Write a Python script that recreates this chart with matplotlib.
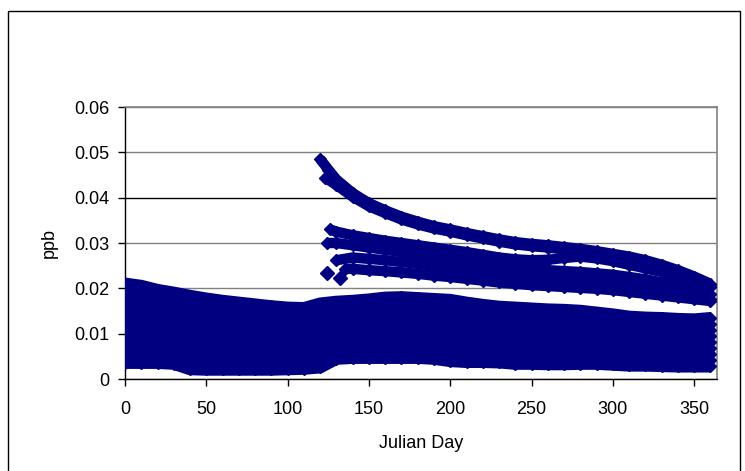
import numpy as np
import matplotlib
matplotlib.use('Agg')
import matplotlib.pyplot as plt
from matplotlib.patches import Rectangle

plt.rcParams['font.family'] = ['Liberation Sans', 'DejaVu Sans']

NAVY = '#000080'

# ---- data (ppb vs Julian day) ----
days = [0, 10, 20, 30, 40, 50, 60, 70, 80, 90, 100, 110, 120, 130, 140, 150, 160, 170, 180,
        190, 200, 210, 220, 230, 240, 250, 260, 270, 280, 290, 300, 310, 320, 330, 340, 350, 360]

# top and bottom edge of the dense low band
low_top = [0.0210, 0.0205, 0.0196, 0.0190, 0.0183, 0.0177, 0.0172, 0.0168, 0.0164, 0.0160,
           0.0157, 0.0156, 0.0166, 0.0170, 0.0172, 0.0175, 0.0179, 0.0180, 0.0178, 0.0176,
           0.0174, 0.0168, 0.0163, 0.0159, 0.0157, 0.0155, 0.0153, 0.0152, 0.0150, 0.0146,
           0.0142, 0.0137, 0.0135, 0.0134, 0.0132, 0.0131, 0.0134]
low_bottom = [0.0036, 0.0036, 0.0036, 0.0034, 0.0022, 0.0021, 0.0021, 0.0021, 0.0021, 0.0021,
              0.0022, 0.0023, 0.0026, 0.0045, 0.0047, 0.0047, 0.0047, 0.0047, 0.0047, 0.0045,
              0.0040, 0.0038, 0.0038, 0.0037, 0.0034, 0.0034, 0.0033, 0.0033, 0.0034, 0.0034,
              0.0032, 0.0030, 0.0030, 0.0029, 0.0028, 0.0028, 0.0028]

# series inside the low band
mid_days = [0, 30, 60, 90, 120, 150, 180, 210, 240, 270, 300, 330, 360]
mid_1 = [0.0054, 0.0049, 0.0038, 0.0037, 0.0042, 0.0063, 0.0063, 0.0054, 0.0049, 0.0048, 0.0046, 0.0042, 0.0041]
mid_2 = [0.0078, 0.0071, 0.0058, 0.0056, 0.0060, 0.0079, 0.0080, 0.0071, 0.0065, 0.0063, 0.0060, 0.0055, 0.0055]
mid_3 = [0.0101, 0.0093, 0.0078, 0.0073, 0.0079, 0.0095, 0.0096, 0.0087, 0.0080, 0.0078, 0.0073, 0.0068, 0.0068]
mid_4 = [0.0123, 0.0112, 0.0097, 0.0091, 0.0096, 0.0111, 0.0113, 0.0103, 0.0096, 0.0093, 0.0087, 0.0081, 0.0081]
mid_5 = [0.0145, 0.0132, 0.0116, 0.0108, 0.0114, 0.0127, 0.0129, 0.0119, 0.0111, 0.0108, 0.0101, 0.0095, 0.0095]
mid_6 = [0.0167, 0.0151, 0.0134, 0.0125, 0.0131, 0.0143, 0.0145, 0.0136, 0.0126, 0.0123, 0.0115, 0.0108, 0.0108]
mid_7 = [0.0188, 0.0171, 0.0153, 0.0143, 0.0149, 0.0159, 0.0162, 0.0152, 0.0142, 0.0137, 0.0128, 0.0121, 0.0121]

# upper curve (starts day 120)
up1_days = [120, 125, 130, 140, 150, 160, 170, 180, 190, 200, 210, 220, 230, 240, 250, 260,
            270, 280, 290, 300, 310, 320, 330, 340, 350, 360]
up1 = [0.0485, 0.0462, 0.0440, 0.0410, 0.0388, 0.0372, 0.0358, 0.0347, 0.0337, 0.0330, 0.0322,
       0.0315, 0.0308, 0.0302, 0.0298, 0.0295, 0.0291, 0.0287, 0.0282, 0.0276, 0.0270, 0.0262,
       0.0252, 0.0240, 0.0226, 0.0210]
up2_days = [123, 130, 140, 150, 160, 170, 180, 190, 200, 210, 220, 230, 240, 250, 260, 270,
            280, 290, 300, 310, 320, 330, 340, 350, 360]
up2 = [0.0444, 0.0428, 0.0402, 0.0381, 0.0366, 0.0352, 0.0341, 0.0332, 0.0325, 0.0317, 0.0310,
       0.0303, 0.0297, 0.0293, 0.0290, 0.0286, 0.0282, 0.0277, 0.0271, 0.0265, 0.0257, 0.0247,
       0.0235, 0.0221, 0.0206]

# middle group (starts around day 125)
b1_days = [126, 130, 140, 150, 160, 170, 180, 190, 200, 210, 220, 230, 240, 250, 260, 270,
           280, 290, 300, 310, 320, 330, 340, 350, 360]
b1 = [0.0330, 0.0325, 0.0317, 0.0311, 0.0305, 0.0300, 0.0295, 0.0290, 0.0285, 0.0280, 0.0274,
      0.0268, 0.0264, 0.0262, 0.0263, 0.0267, 0.0270, 0.0266, 0.0260, 0.0252, 0.0244, 0.0236,
      0.0226, 0.0214, 0.0202]
b2_days = [124, 130, 140, 150, 160, 170, 180, 190, 200, 210, 220, 230, 240, 250, 260, 270,
           280, 290, 300, 310, 320, 330, 340, 350, 360]
b2 = [0.0300, 0.0300, 0.0295, 0.0290, 0.0285, 0.0280, 0.0275, 0.0270, 0.0265, 0.0260, 0.0255,
      0.0250, 0.0246, 0.0243, 0.0240, 0.0238, 0.0236, 0.0233, 0.0230, 0.0225, 0.0220, 0.0213,
      0.0205, 0.0196, 0.0188]
b3_days = [130, 140, 150, 160, 170, 180, 190, 200, 210, 220, 230, 240, 250, 260, 270, 280,
           290, 300, 310, 320, 330, 340, 350, 360]
b3 = [0.0262, 0.0268, 0.0265, 0.0262, 0.0258, 0.0254, 0.0250, 0.0246, 0.0242, 0.0238, 0.0234,
      0.0230, 0.0226, 0.0223, 0.0220, 0.0217, 0.0214, 0.0210, 0.0206, 0.0202, 0.0197, 0.0190,
      0.0182, 0.0176]
b4_days = [135, 140, 150, 160, 170, 180, 190, 200, 210, 220, 230, 240, 250, 260, 270, 280,
           290, 300, 310, 320, 330, 340, 350, 360]
b4 = [0.0243, 0.0243, 0.0240, 0.0238, 0.0235, 0.0232, 0.0228, 0.0225, 0.0221, 0.0217, 0.0213,
      0.0210, 0.0207, 0.0205, 0.0203, 0.0201, 0.0199, 0.0196, 0.0192, 0.0188, 0.0184, 0.0180,
      0.0176, 0.0172]
lone_days = [124, 132]
lone = [0.0234, 0.0223]

x_ticks = [0, 50, 100, 150, 200, 250, 300, 350]
y_ticks = [0, 0.01, 0.02, 0.03, 0.04, 0.05, 0.06]
y_labels = ['0', '0.01', '0.02', '0.03', '0.04', '0.05', '0.06']

fig = plt.figure(figsize=(7.45, 4.71), dpi=100)
ax = fig.add_axes([125 / 745, 92 / 471, 592 / 745, 272 / 471])

MS = 6
LW = 7.5
low_series = [
    (days, low_bottom), (mid_days, mid_1), (mid_days, mid_2), (mid_days, mid_3),
    (mid_days, mid_4), (mid_days, mid_5), (mid_days, mid_6), (mid_days, mid_7),
    (days, low_top),
]
high_series = [
    (b4_days, b4), (b3_days, b3), (b2_days, b2), (b1_days, b1),
    (up2_days, up2), (up1_days, up1),
]
for xs, ys in low_series:
    ax.plot(xs, ys, color=NAVY, lw=LW + 1.5, marker='D', ms=MS, mec=NAVY, mfc=NAVY,
            solid_capstyle='butt', zorder=3)
for xs, ys in high_series:
    ax.plot(xs, ys, color=NAVY, lw=LW, marker='D', ms=MS, mec=NAVY, mfc=NAVY,
            solid_capstyle='butt', zorder=3)
ax.plot(lone_days, lone, ls='none', marker='D', ms=MS + 1, color=NAVY, zorder=3)

ax.set_xlim(0, 364)
ax.set_ylim(0, 0.06)
ax.set_xticks(x_ticks)
ax.set_yticks(y_ticks)
ax.set_yticklabels(y_labels)
ax.tick_params(axis='both', direction='out', length=5, width=1, color='black',
               labelsize=13, pad=6)
ax.tick_params(axis='x', pad=11)

ax.yaxis.grid(True, color='#808080', lw=1)
ax.set_axisbelow(True)
ax.get_ygridlines()[4].set_color('black')

for side in ['top', 'right']:
    ax.spines[side].set_color('#808080')
    ax.spines[side].set_linewidth(1.2)
for side in ['left', 'bottom']:
    ax.spines[side].set_color('black')
    ax.spines[side].set_linewidth(1)

ax.set_xlabel('Julian Day', fontsize=13, labelpad=12)
ax.set_ylabel('ppb', fontsize=13, labelpad=12)

fig.patches.append(Rectangle((8 / 745, -0.02), 732 / 745, 1.02 - 11 / 471,
                             transform=fig.transFigure, fill=False,
                             edgecolor='black', lw=1))

fig.savefig('out.png', dpi=100)
